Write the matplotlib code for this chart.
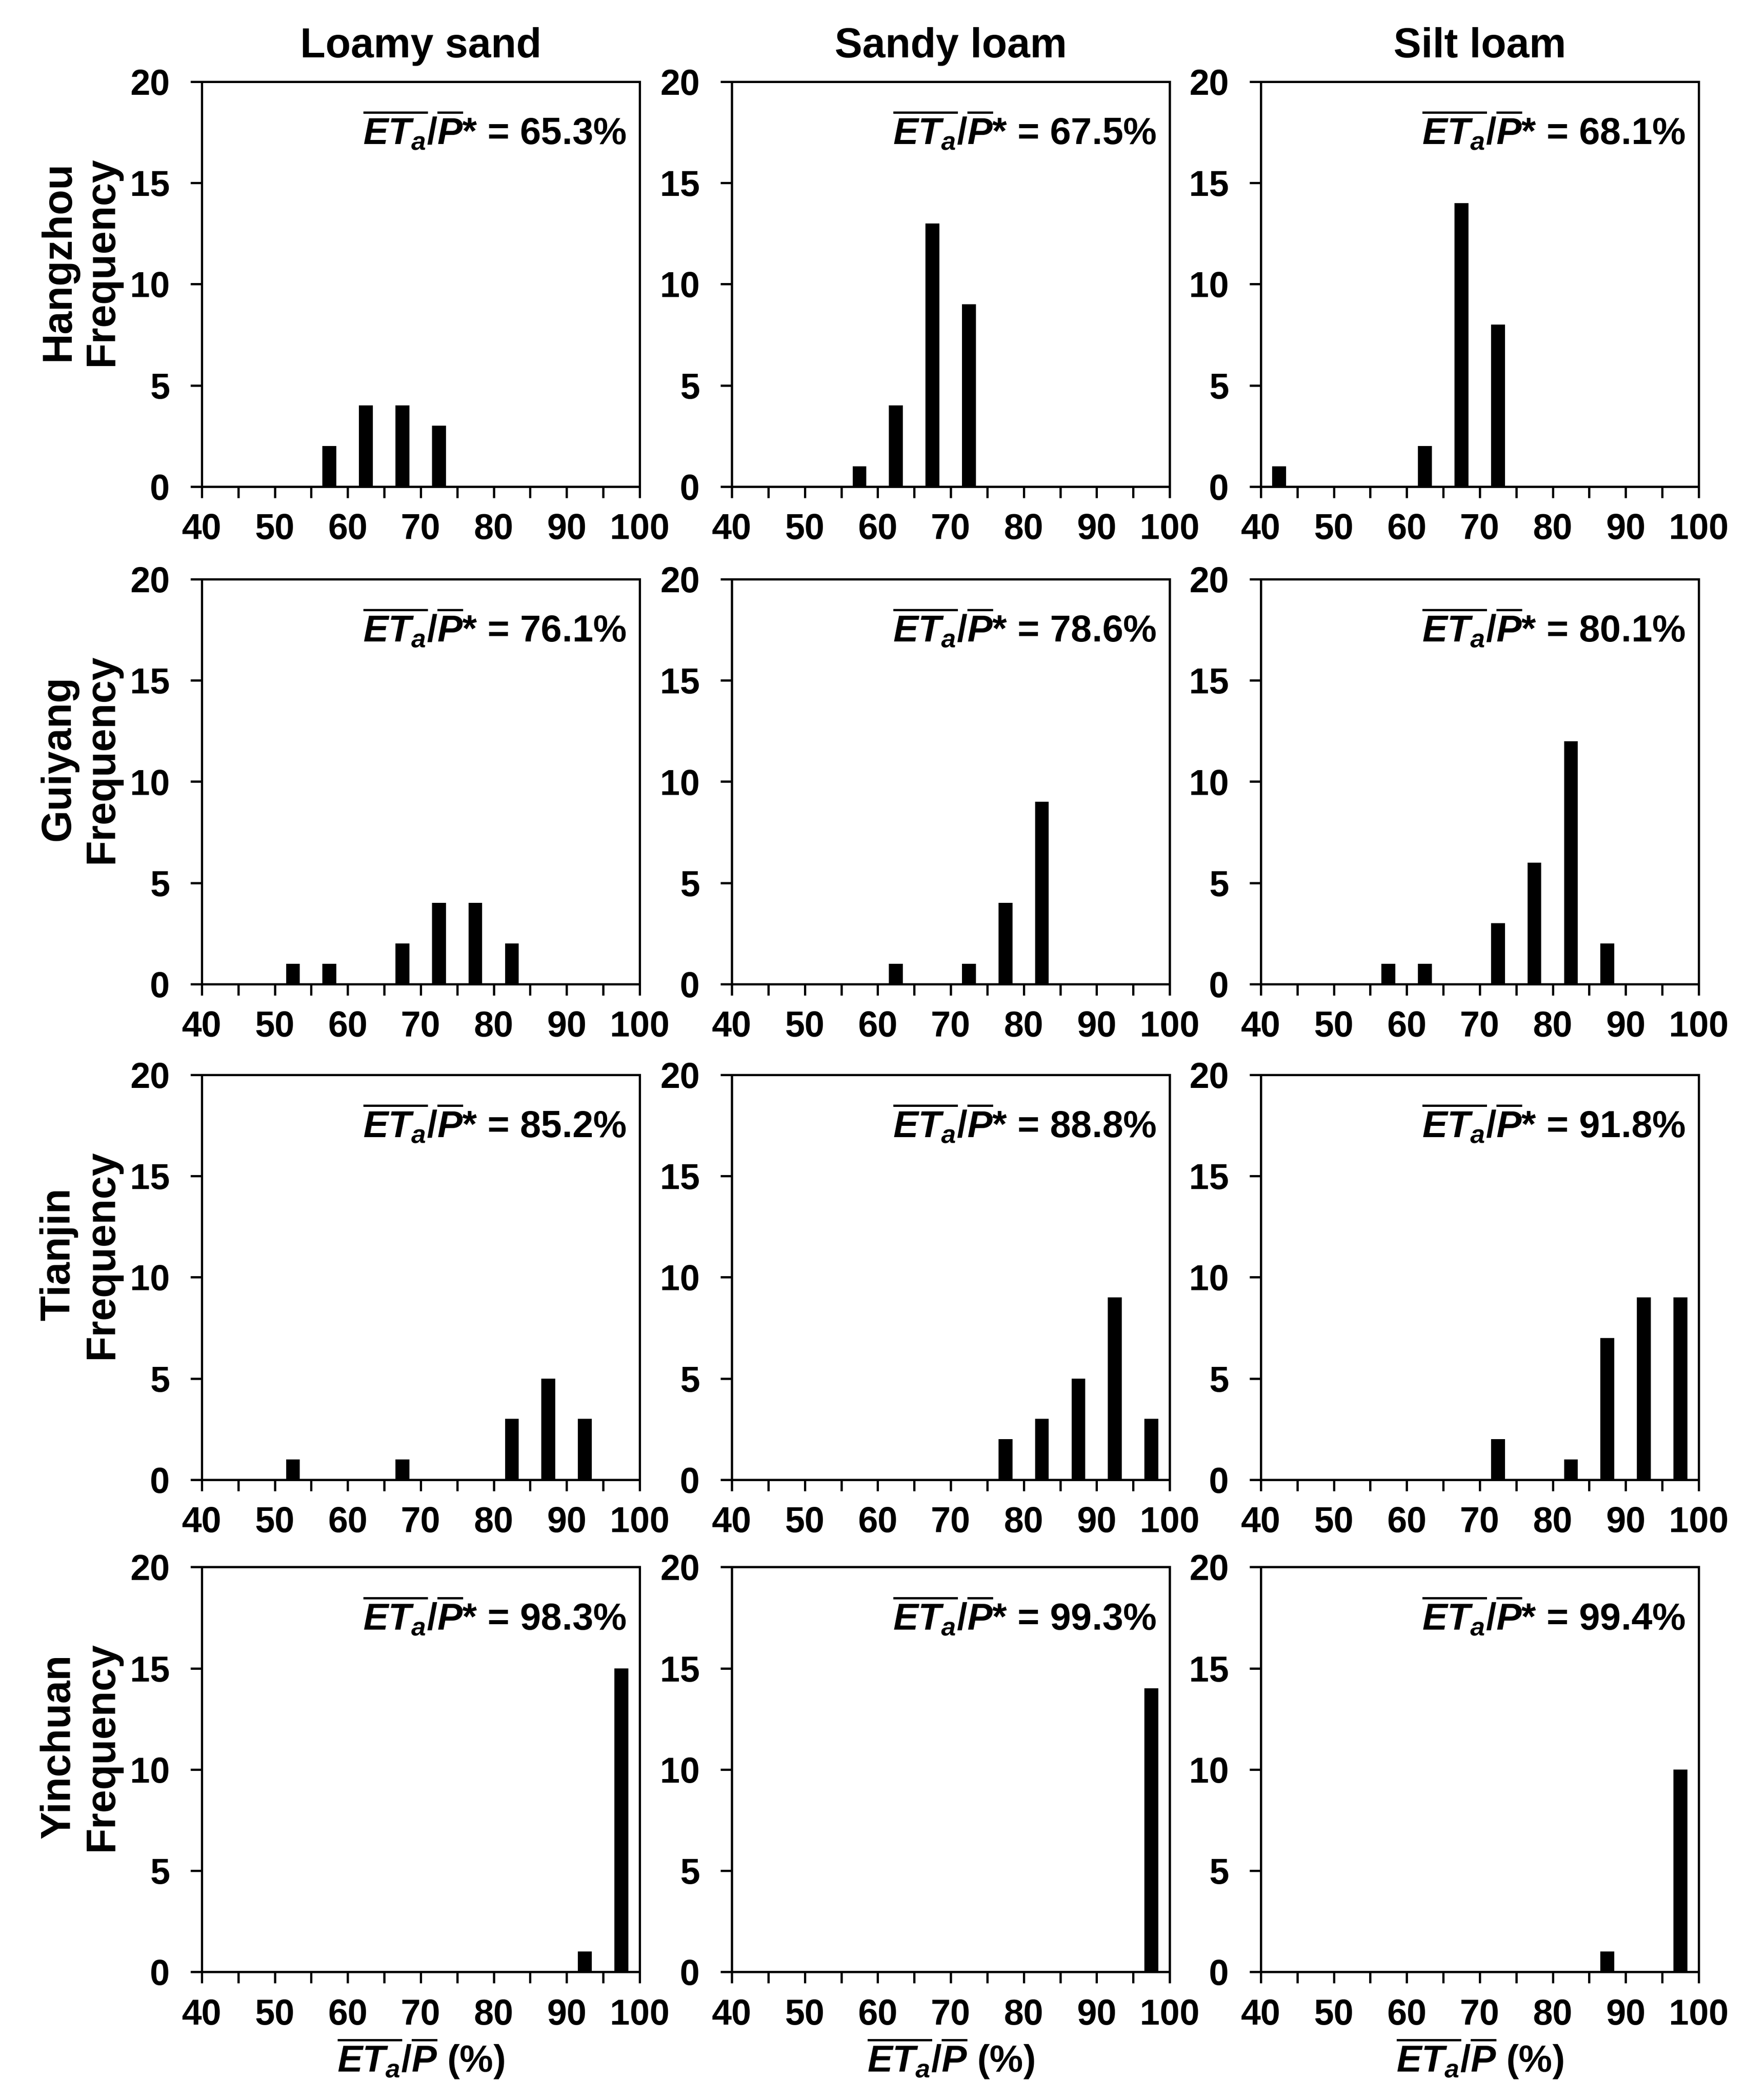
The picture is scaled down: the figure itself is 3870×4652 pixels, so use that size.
import matplotlib
matplotlib.use('Agg')
import matplotlib.pyplot as plt
from matplotlib.ticker import MultipleLocator

plt.rcParams['font.family'] = ['Liberation Sans', 'DejaVu Sans']
plt.rcParams['font.weight'] = 'bold'
plt.rcParams['axes.labelweight'] = 'bold'
plt.rcParams['mathtext.fontset'] = 'custom'
plt.rcParams['mathtext.rm'] = 'Liberation Sans:bold'
plt.rcParams['mathtext.it'] = 'Liberation Sans:italic:bold'
plt.rcParams['mathtext.bf'] = 'Liberation Sans:bold'

# bin centres of ETa/P (%)
bins = [42.5, 47.5, 52.5, 57.5, 62.5, 67.5, 72.5, 77.5, 82.5, 87.5, 92.5, 97.5]

soils = ['Loamy sand', 'Sandy loam', 'Silt loam']
sites = ['Hangzhou', 'Guiyang', 'Tianjin', 'Yinchuan']

# frequencies, one list per site, one row per soil
hangzhou = [[0, 0, 0, 2, 4, 4, 3, 0, 0, 0, 0, 0],
            [0, 0, 0, 1, 4, 13, 9, 0, 0, 0, 0, 0],
            [1, 0, 0, 0, 2, 14, 8, 0, 0, 0, 0, 0]]
guiyang = [[0, 0, 1, 1, 0, 2, 4, 4, 2, 0, 0, 0],
           [0, 0, 0, 0, 1, 0, 1, 4, 9, 0, 0, 0],
           [0, 0, 0, 1, 1, 0, 3, 6, 12, 2, 0, 0]]
tianjin = [[0, 0, 1, 0, 0, 1, 0, 0, 3, 5, 3, 0],
           [0, 0, 0, 0, 0, 0, 0, 2, 3, 5, 9, 3],
           [0, 0, 0, 0, 0, 0, 2, 0, 1, 7, 9, 9]]
yinchuan = [[0, 0, 0, 0, 0, 0, 0, 0, 0, 0, 1, 15],
            [0, 0, 0, 0, 0, 0, 0, 0, 0, 0, 0, 14],
            [0, 0, 0, 0, 0, 0, 0, 0, 0, 1, 0, 10]]
counts = [hangzhou, guiyang, tianjin, yinchuan]

# mean ETa / mean P for each panel
ratios = [[65.3, 67.5, 68.1],
          [76.1, 78.6, 80.1],
          [85.2, 88.8, 91.8],
          [98.3, 99.3, 99.4]]

fig = plt.figure(figsize=(12.9, 15.507), dpi=300)

lefts = [0.1155, 0.4189, 0.7217]
bottoms = [0.7683, 0.5314, 0.2954, 0.0610]
w, h = 0.2506, 0.1928

for r in range(4):
    for c in range(3):
        ax = fig.add_axes([lefts[c], bottoms[r], w, h])
        ax.bar(bins, counts[r][c], width=1.9, color='black', linewidth=0)
        ax.set_xlim(40, 100)
        ax.set_ylim(0, 20)
        ax.set_xticks([40, 50, 60, 70, 80, 90, 100])
        ax.xaxis.set_minor_locator(MultipleLocator(5))
        ax.set_yticks([0, 5, 10, 15, 20])
        ax.tick_params(axis='both', which='both', direction='out', length=6,
                       width=1.2, labelsize=19)
        ax.tick_params(axis='x', pad=8)
        ax.tick_params(axis='y', pad=11)
        for s in ax.spines.values():
            s.set_linewidth(1.2)
        ax.text(0.97, 0.845,
                r'$\overline{ET_a}/\overline{P}$* = ' + f'{ratios[r][c]:.1f}%',
                transform=ax.transAxes, ha='right', va='baseline', fontsize=20)
        if r == 0:
            ax.set_title(soils[c], fontsize=22, fontweight='bold', pad=13)
        if c == 0:
            yc = bottoms[r] + h * 0.5 + 0.011
            fig.text(0.046, yc, sites[r] + '\nFrequency', rotation=90,
                     ha='center', va='center', fontsize=22, fontweight='bold',
                     multialignment='center', linespacing=1.15)
        if r == 3:
            ax.set_xlabel(r'$\overline{ET_a}/\overline{P}$ (%)', fontsize=20,
                          fontweight='bold', labelpad=2)

fig.savefig('out.png', dpi=300)
